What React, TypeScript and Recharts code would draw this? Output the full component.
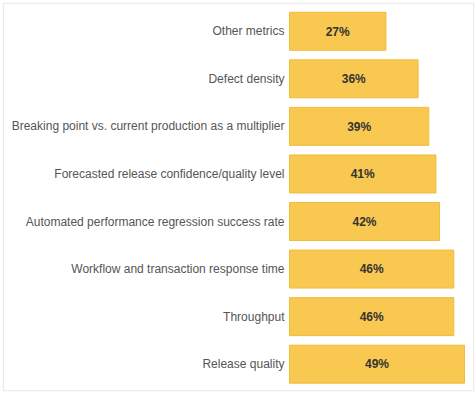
import React from "react";
import { BarChart, Bar, XAxis, YAxis, LabelList } from "recharts";

const categories = [
  "Other metrics",
  "Defect density",
  "Breaking point vs. current production as a multiplier",
  "Forecasted release confidence/quality level",
  "Automated performance regression success rate",
  "Workflow and transaction response time",
  "Throughput",
  "Release quality",
];
const values = [27, 36, 39, 41, 42, 46, 46, 49];

const data = categories.map((name, i) => ({ name, value: values[i] }));

const font = "'Liberation Sans', Arial, Helvetica, sans-serif";

const CategoryTick = (props: any) => {
  const { x, y, payload } = props;
  return (
    <text
      x={x}
      y={y}
      dy="0.355em"
      textAnchor="end"
      fill="#555"
      fontSize={12}
      fontFamily={font}
    >
      {payload.value}
    </text>
  );
};

export default function App() {
  return (
    <div style={{ position: "absolute", left: 0, top: 0, width: 476, height: 394, background: "#fff" }}>
      <div
        style={{
          position: "absolute",
          left: 3,
          top: 3,
          width: 469,
          height: 386,
          border: "1px solid #ebebeb",
          boxShadow: "0 0 2px rgba(0,0,0,0.06)",
        }}
      />
      <div style={{ position: "absolute", left: 0, top: 0 }}>
        <BarChart
          width={476}
          height={394}
          data={data}
          layout="vertical"
          margin={{ top: 7.25, bottom: 6.25, left: 0, right: 11.5 }}
        >
          <XAxis type="number" hide domain={[0, 49]} />
          <YAxis
            type="category"
            dataKey="name"
            width={289.5}
            tickLine={false}
            axisLine={false}
            tickSize={0}
            tickMargin={5}
            interval={0}
            tick={<CategoryTick />}
          />
          <Bar
            dataKey="value"
            barSize={38}
            fill="#F9C851"
            stroke="#F0BC3E"
            strokeWidth={1}
            isAnimationActive={false}
          >
            <LabelList
              dataKey="value"
              position="center"
              formatter={(v: any) => `${v}%`}
              style={{ fill: "#333", fontSize: 12, fontWeight: "bold", fontFamily: font }}
            />
          </Bar>
        </BarChart>
      </div>
    </div>
  );
}
